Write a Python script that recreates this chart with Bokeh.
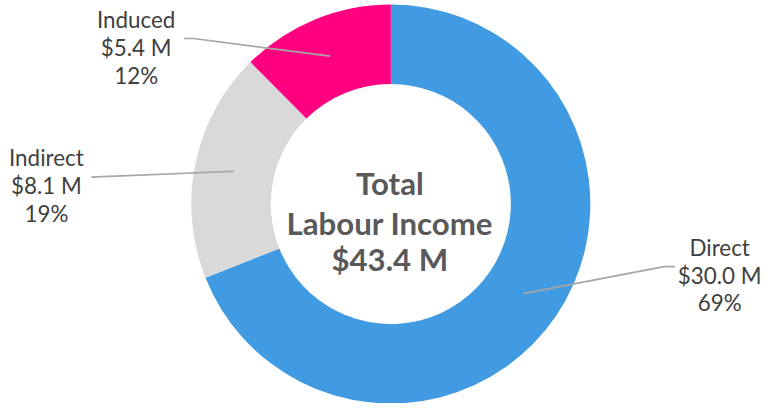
import math
from bokeh.plotting import figure
from bokeh.models import Range1d, ColumnDataSource
from bokeh.core.properties import value
from bokeh.embed import file_html
from bokeh.resources import INLINE

# ---- data ----
categories = ["Direct", "Indirect", "Induced"]
values = [30.0, 8.1, 5.4]
percents = [69, 19, 12]
colors = ["#419BE3", "#D9D9D9", "#FF0080"]
total_title = ["Total", "Labour Income"]
total_value = 43.4

# ---- layout (reference pixel space, y measured downward) ----
W, H = 763, 403
REF_TOP, REF_BOT = 5, 418
s = H / (REF_BOT - REF_TOP)
X0 = 2
def Y(ry):
    return 419 - ry

CX, CY = 402, Y(213.5)
R_OUT, R_IN = 204.5, 123.0
R_MID = (R_OUT + R_IN) / 2

p = figure(width=W, height=H, output_backend="svg", toolbar_location=None,
           x_range=Range1d(X0, X0 + W / s), y_range=Range1d(Y(REF_BOT), Y(REF_TOP)),
           x_axis_type=None, y_axis_type=None, min_border=0,
           outline_line_color=None, background_fill_color="white",
           border_fill_color="white")
p.grid.visible = False

tot = sum(values)
fracs = [v / tot for v in values]
starts, ends, mids = [], [], []
cum = 0.0
for f in fracs:
    a0 = math.pi / 2 - cum * 2 * math.pi
    a1 = math.pi / 2 - (cum + f) * 2 * math.pi
    starts.append(a0)
    ends.append(a1)
    mids.append((a0 + a1) / 2)
    cum += f

src = ColumnDataSource(dict(x=[CX] * 3, y=[CY] * 3, start=starts, end=ends, color=colors))
p.annular_wedge(x="x", y="y", inner_radius=R_IN, outer_radius=R_OUT,
                start_angle="start", end_angle="end", direction="clock",
                fill_color="color", line_color=None, source=src)

# leader lines
anchors = [(CX + R_MID * math.cos(a), CY + R_MID * math.sin(a)) for a in mids]
label_pts = {
    "Direct": [(682, Y(277.7)), (693, Y(277.7))],
    "Indirect": [(95, Y(186))],
    "Induced": [(200, Y(44)), (190, Y(44))],
}
for cat, (ax, ay) in zip(categories, anchors):
    pts = [(ax, ay)] + label_pts[cat]
    p.line([q[0] for q in pts], [q[1] for q in pts], line_color="#A6A6A6", line_width=1.6)

# labels
label_pos = {
    "Direct": (739, [257.7, 286.7, 315]),
    "Indirect": (49, [165.7, 195, 223.3]),
    "Induced": (141, [24, 53, 82]),
}
fs_label = f"{23 * s:.1f}px"
for cat, v, pc in zip(categories, values, percents):
    lx, lys = label_pos[cat]
    texts = [cat, f"${v:.1f} M", f"{pc}%"]
    p.text(x=[lx] * 3, y=[Y(yy) for yy in lys], text=texts,
           text_align="center", text_baseline="alphabetic",
           text_font=value("Lato"), text_font_size=fs_label, text_color="#404040")

# centre text
center_lines = total_title + [f"${total_value:.1f} M"]
center_ys = [191.7, 232.7, 270]
p.text(x=[401] * 3, y=[Y(yy) for yy in center_ys], text=center_lines,
       text_align="center", text_baseline="alphabetic",
       text_font=value("Lato"), text_font_style="bold",
       text_font_size=f"{32 * s:.1f}px", text_color="#595959")

open("out.html", "w").write(file_html(p, INLINE))
